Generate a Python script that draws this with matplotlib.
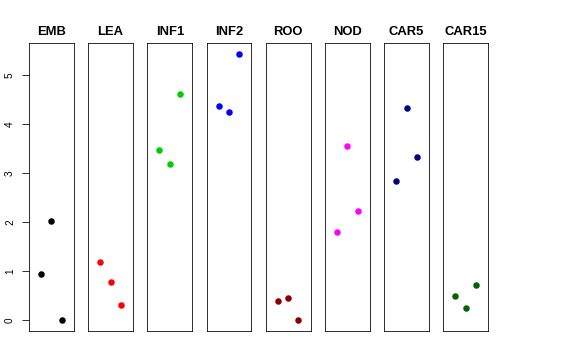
import matplotlib
matplotlib.use("Agg")
import matplotlib.pyplot as plt

plt.rcParams['font.family'] = ['Liberation Sans', 'DejaVu Sans']

# 数据：每个组织的三个点
groups = ["EMB", "LEA", "INF1", "INF2", "ROO", "NOD", "CAR5", "CAR15"]
colors = ["#000000", "#FF0000", "#00CD00", "#0000FF", "#8B0000", "#FF00FF", "#000080", "#006400"]
x_pos = [1, 2, 3]
emb = [0.95, 2.03, 0.0]
lea = [1.18, 0.78, 0.32]
inf1 = [3.48, 3.19, 4.62]
inf2 = [4.37, 4.24, 5.44]
roo = [0.39, 0.455, 0.0]
nod = [1.81, 3.55, 2.24]
car5 = [2.84, 4.33, 3.33]
car15 = [0.50, 0.26, 0.73]
values = [emb, lea, inf1, inf2, roo, nod, car5, car15]
y_ticks = [0, 1, 2, 3, 4, 5]

W, H = 576, 360
fig = plt.figure(figsize=(W / 72, H / 72), dpi=72)

ymax = max(max(v) for v in values)
ymin = 0
pad_y = (ymax - ymin) * 0.04

for i, (name, col, vals) in enumerate(zip(groups, colors, values)):
    left = 29 + i * 59.2
    ax = fig.add_axes([left / W, 29 / H, 44.7 / W, 288 / H])
    ax.plot(x_pos, vals, "o", color=col, ms=6.5, mec="none")
    ax.set_xlim(-0.16, 4.16)
    ax.set_ylim(ymin - pad_y, ymax + pad_y)
    ax.set_xticks([])
    for s in ax.spines.values():
        s.set_linewidth(0.8)
    ax.set_title(name, fontsize=13, fontweight="bold", pad=8)
    if i == 0:
        ax.set_yticks(y_ticks)
        ax.tick_params(axis="y", length=7, width=0.8, pad=7, labelsize=10)
        for t in ax.get_yticklabels():
            t.set_rotation(90)
            t.set_va("center")
    else:
        ax.set_yticks([])

fig.savefig("out.png", dpi=72)
